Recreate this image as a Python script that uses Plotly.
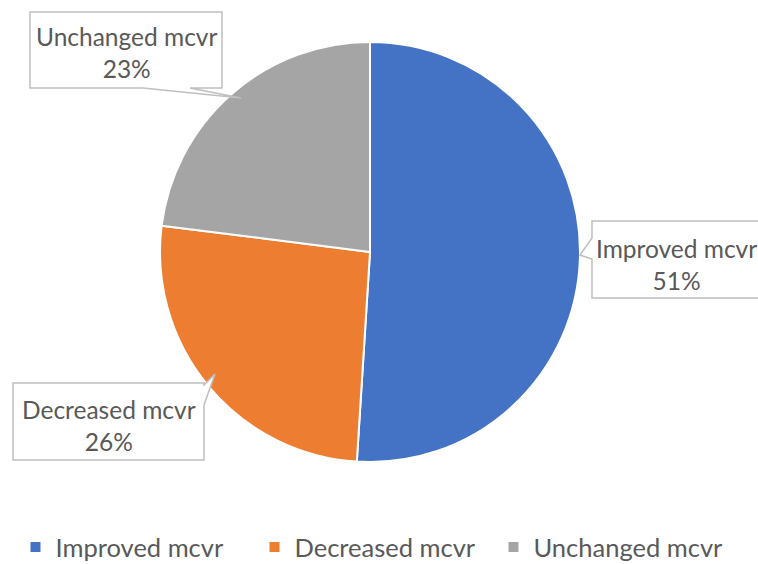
import plotly.graph_objects as go

W, H = 758, 564

labels = ["Improved mcvr", "Decreased mcvr", "Unchanged mcvr"]
values = [51, 26, 23]
colors = ["#4472C4", "#ED7D31", "#A5A5A5"]

FONT = "Lato"
TXT = "#595959"

LEG_TOP = 524          # legend top in pixels; plot area reserved above it
HP = LEG_TOP           # plot-area height in pixels


def fx(x):
    return x / W


def fy(y):
    return 1 - y / HP


def path(points):
    s = "M " + " L ".join(f"{fx(x):.5f},{fy(y):.5f}" for x, y in points) + " Z"
    return s


cx, cy, r = 370, 252, 210

fig = go.Figure(
    go.Pie(
        labels=labels,
        values=values,
        sort=False,
        direction="clockwise",
        rotation=0,
        marker=dict(colors=colors, line=dict(color="white", width=2)),
        textinfo="none",
        hoverinfo="label+percent",
        domain=dict(x=[fx(cx - r), fx(cx + r)], y=[fy(cy + r), fy(cy - r)]),
        showlegend=True,
    )
)

total = sum(values)
pcts = [round(v / total * 100) for v in values]

# callout boxes (x0, y0, x1, y1) and tail points, in pixels
boxes = {
    0: dict(box=(592, 221, 764, 298),
            pts=[(592, 221), (764, 221), (764, 298), (592, 298), (592, 259), (580, 255), (592, 238)]),
    1: dict(box=(13, 383, 204, 460),
            pts=[(13, 383), (204, 383), (204, 385), (215, 374), (204, 405), (204, 460), (13, 460)]),
    2: dict(box=(30, 12, 222, 88),
            pts=[(30, 12), (222, 12), (222, 88), (190, 88), (241, 98), (143, 88), (30, 88)]),
}
text_centers = {0: (676, 264), 1: (109, 425), 2: (127, 52)}

shapes = []
annotations = []
for i, b in boxes.items():
    shapes.append(dict(type="path", xref="paper", yref="paper", path=path(b["pts"]),
                       fillcolor="white", line=dict(color="#BFBFBF", width=1.5)))
    tx, ty = text_centers[i]
    annotations.append(dict(
        x=fx(tx), y=fy(ty), xref="paper", yref="paper",
        xanchor="center", yanchor="middle", showarrow=False,
        text=f"{labels[i]}<br>{pcts[i]}%",
        font=dict(family=FONT, size=24.5, color=TXT), align="center",
    ))

fig.update_layout(
    width=W, height=H,
    margin=dict(l=0, r=0, t=0, b=0),
    paper_bgcolor="white", plot_bgcolor="white",
    shapes=shapes, annotations=annotations,
    legend=dict(orientation="h", x=0.5 - 5 / W, xanchor="center",
                yref="container", y=1 - LEG_TOP / H, yanchor="top",
                font=dict(family=FONT, size=25.5, color=TXT), itemwidth=30,
                entrywidth=194, entrywidthmode="pixels",
                traceorder="normal"),
)

fig.write_html("out.html")
